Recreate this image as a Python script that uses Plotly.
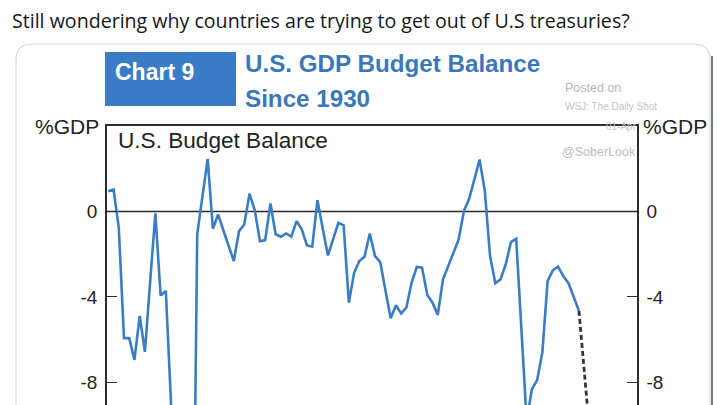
import plotly.graph_objects as go

# ---- data ----
years = list(range(1929, 2020))
balance = [
    0.95, 1.03, -0.76, -5.93, -5.93, -6.95, -4.89, -6.57, -3.3, -0.09,   # 1929-1938
    -3.93, -3.72, -9.0, -13.9, -29.6, -22.2, -23.0, -1.07, 0.7, 2.46,    # 1939-1948
    -0.81, -0.14, -0.88, -1.64, -2.32, -0.92, -0.61, 0.83, 0.06, -1.39,  # 1949-1958
    -1.34, 0.37, -1.07, -1.18, -1.03, -1.18, -0.45, -0.84, -1.59, -1.65, # 1959-1968
    0.53, -0.8, -2.06, -1.3, -0.53, -0.65, -4.27, -2.87, -2.32, -2.12,   # 1969-1978
    -1.03, -2.09, -2.37, -3.7, -5.0, -4.39, -4.77, -4.5, -3.33, -2.6,    # 1979-1988
    -2.63, -3.91, -4.27, -4.85, -3.18, -2.56, -1.9, -1.31, 0.02, 0.59,   # 1989-1998
    1.5, 2.43, 0.95, -2.09, -3.36, -3.18, -2.48, -1.43, -1.28, -5.5,     # 1999-2008
    -9.8, -8.32, -7.9, -6.6, -3.26, -2.76, -2.58, -3.02, -3.36, -4.0,    # 2009-2018
    -4.66,                                                               # 2019
]
proj_years = [2019, 2021]
proj_balance = [-4.66, -10.2]

tick_vals = [0, -4, -8]
tick_text = ["0", "-4", "-8"]

W, H = 720, 405
def px(x):
    return x / W
def py(y):
    return 1 - y / H

BLUE = "#3b7cc7"
DARK = "#2b2b2b"
FONT = "Liberation Sans, Arial, sans-serif"

fig = go.Figure()
fig.add_trace(go.Scatter(x=years, y=balance, mode="lines",
                         line=dict(color=BLUE, width=2.6), showlegend=False,
                         hoverinfo="skip"))
fig.add_trace(go.Scatter(x=proj_years, y=proj_balance, mode="lines",
                         line=dict(color="#333333", width=2.8, dash="5px,3px"),
                         showlegend=False, hoverinfo="skip"))

x_dom = [px(107), px(637)]
y_dom = [0, py(126)]

fig.update_layout(
    width=W, height=H,
    margin=dict(l=0, r=0, t=0, b=0),
    paper_bgcolor="white", plot_bgcolor="white",
    font=dict(family=FONT, color="#222222"),
    xaxis=dict(domain=x_dom, range=[1928.75, 2030.1], side="top",
               showline=True, linecolor=DARK, linewidth=1.5,
               showticklabels=False, ticks="", showgrid=False, zeroline=False),
    yaxis=dict(domain=y_dom, range=[-9.06, 4], tickvals=tick_vals, ticktext=tick_text,
               ticks="inside", ticklen=10, tickcolor=DARK, tickwidth=1.3,
               showline=True, linecolor=DARK, linewidth=1.5,
               showgrid=False, zeroline=False, tickfont=dict(size=19, color="#222"),
               ticklabelstandoff=4),
    yaxis2=dict(domain=y_dom, range=[-9.06, 4], overlaying="y", side="right",
                tickvals=tick_vals, ticktext=tick_text,
                ticks="inside", ticklen=10, tickcolor=DARK, tickwidth=1.3,
                showline=True, linecolor=DARK, linewidth=1.5,
                showgrid=False, zeroline=False, tickfont=dict(size=19, color="#222"),
                ticklabelstandoff=4),
)
# dummy trace to activate yaxis2
fig.add_trace(go.Scatter(x=[None], y=[None], yaxis="y2", showlegend=False))

shapes = []
# zero line
shapes.append(dict(type="line", xref="x domain", yref="y", x0=0, x1=1, y0=0, y1=0,
                   line=dict(color=DARK, width=1.5), layer="below"))
# tweet card border with rounded top corners
r = 16
L, R, T, B = 16, 710, 44, 420
path = (f"M {px(L)},{py(B)} L {px(L)},{py(T + r)} Q {px(L)},{py(T)} {px(L + r)},{py(T)} "
        f"L {px(R - r)},{py(T)} Q {px(R)},{py(T)} {px(R)},{py(T + r)} L {px(R)},{py(B)}")
shapes.append(dict(type="path", xref="paper", yref="paper", path=path,
                   line=dict(color="#cfd9de", width=1.2)))
shapes.append(dict(type="line", xref="paper", yref="paper", x0=px(712), x1=px(712),
                   y0=py(56), y1=py(410), line=dict(color="#56606a", width=1.6)))
# Chart 9 box
shapes.append(dict(type="rect", xref="paper", yref="paper", x0=px(105), x1=px(236),
                   y0=py(106), y1=py(52), fillcolor="#3b7cc6", line=dict(width=0)))
fig.update_layout(shapes=shapes)

ann = []
def text(x, y, s, size, color="#222222", bold=False, xanchor="left", family=FONT):
    ann.append(dict(xref="paper", yref="paper", x=px(x), y=py(y), text=f"<b>{s}</b>" if bold else s,
                    showarrow=False, xanchor=xanchor, yanchor="middle",
                    font=dict(size=size, color=color, family=family)))

text(10, 20, "Still wondering why countries are trying to get out of U.S treasuries?", 19.6,
     color="#14171a", family="Open Sans, Noto Sans, sans-serif")
text(113, 72, "Chart 9", 23, color="white", bold=True)
text(243, 64, "U.S. GDP Budget Balance", 24.2, color="#3a78bb", bold=True)
text(243, 98, "Since 1930", 24.2, color="#3a78bb", bold=True)
text(563, 88, "Posted on", 12.5, color="#b8b8b8")
text(563, 107, "WSJ: The Daily Shot", 10, color="#c4c4c4")
text(604, 127, "01-Apr", 10, color="#c4c4c4")
text(560, 152, "@SoberLook", 12.5, color="#c0c0c0")
text(101, 127, "%GDP", 21, xanchor="right")
text(641, 127, "%GDP", 21)
text(116, 141, "U.S. Budget Balance", 22.6)
fig.update_layout(annotations=ann)

fig.write_html("out.html")
